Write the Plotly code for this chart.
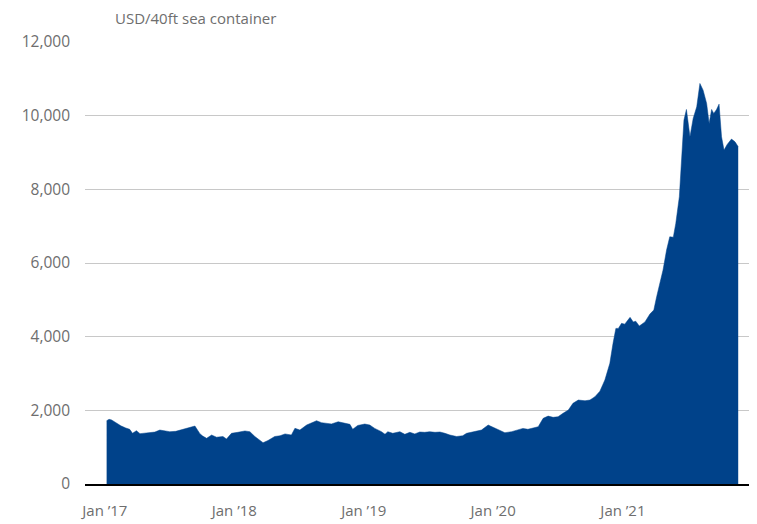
import plotly.graph_objects as go

dates = [
    "2017-01-06", "2017-01-13", "2017-01-20", "2017-02-03", "2017-02-15", "2017-03-01",
    "2017-03-12", "2017-03-20", "2017-03-31", "2017-04-10", "2017-04-24", "2017-05-08",
    "2017-05-22", "2017-06-05", "2017-06-19", "2017-07-03", "2017-07-20", "2017-08-09",
    "2017-08-29", "2017-09-12", "2017-09-26", "2017-10-04", "2017-10-15", "2017-10-29",
    "2017-11-12", "2017-11-30", "2017-12-10", "2017-12-24", "2018-01-11", "2018-01-31",
    "2018-02-14", "2018-02-28", "2018-03-23", "2018-04-06", "2018-04-25", "2018-05-10",
    "2018-05-24", "2018-06-11", "2018-06-21", "2018-07-05", "2018-07-24", "2018-08-05",
    "2018-08-21", "2018-09-04", "2018-09-16", "2018-10-02", "2018-10-21", "2018-11-09",
    "2018-11-23", "2018-12-01", "2018-12-15", "2019-01-04", "2019-01-18", "2019-02-01",
    "2019-02-20", "2019-03-02", "2019-03-10", "2019-03-24", "2019-04-13", "2019-04-27",
    "2019-05-11", "2019-05-25", "2019-06-08", "2019-06-22", "2019-07-06", "2019-07-21",
    "2019-08-04", "2019-08-18", "2019-09-01", "2019-09-20", "2019-10-07", "2019-10-18",
    "2019-11-01", "2019-11-15", "2019-11-29", "2019-12-18", "2020-01-06", "2020-01-20",
    "2020-02-03", "2020-02-22", "2020-03-12", "2020-03-25", "2020-04-08", "2020-04-22",
    "2020-05-07", "2020-05-21", "2020-06-04", "2020-06-18", "2020-07-02", "2020-07-16",
    "2020-07-31", "2020-08-13", "2020-08-28", "2020-09-16", "2020-09-30", "2020-10-14",
    "2020-10-28", "2020-11-11", "2020-11-25", "2020-12-04", "2020-12-12", "2020-12-19",
    "2020-12-28", "2021-01-06", "2021-01-21", "2021-01-30", "2021-02-06", "2021-02-16",
    "2021-03-04", "2021-03-18", "2021-03-29", "2021-04-06", "2021-04-15", "2021-04-24",
    "2021-05-04", "2021-05-13", "2021-05-23", "2021-05-30", "2021-06-09", "2021-06-15",
    "2021-06-22", "2021-06-29", "2021-07-09", "2021-07-18", "2021-07-28", "2021-08-06",
    "2021-08-15", "2021-08-25", "2021-09-01", "2021-09-08", "2021-09-14", "2021-09-22",
    "2021-09-29", "2021-10-06", "2021-10-13", "2021-10-22", "2021-11-03", "2021-11-13",
    "2021-11-22",
]

usd_per_container = [
    1718, 1755, 1740, 1647, 1580, 1520,
    1485, 1376, 1447, 1367, 1380, 1403,
    1410, 1465, 1450, 1420, 1430, 1485,
    1555, 1574, 1367, 1300, 1240, 1330,
    1270, 1290, 1220, 1376, 1403, 1440,
    1420, 1290, 1121, 1180, 1290, 1310,
    1360, 1330, 1511, 1465, 1601, 1650,
    1718, 1665, 1650, 1630, 1690, 1647,
    1620, 1485, 1590, 1628, 1601, 1510,
    1420, 1349, 1420, 1376, 1420, 1349,
    1403, 1360, 1412, 1403, 1420, 1403,
    1412, 1376, 1330, 1290, 1310, 1376,
    1403, 1447, 1465, 1601, 1510, 1465,
    1393, 1420, 1485, 1510, 1485, 1510,
    1555, 1783, 1843, 1810, 1826, 1919,
    2008, 2190, 2280, 2260, 2280, 2370,
    2520, 2823, 3276, 3819, 4225, 4225,
    4361, 4340, 4524, 4400, 4420, 4288,
    4400, 4614, 4722, 5084, 5447, 5808,
    6351, 6712, 6700, 7075, 7797, 8793,
    9879, 10169, 9426, 9925, 10240, 10875,
    10693, 10332, 9789, 10169, 10060, 10169,
    10313, 9426, 9065, 9220, 9364, 9290,
    9155,
]

tick_dates = ["2017-01-01", "2018-01-01", "2019-01-01", "2020-01-01", "2021-01-01"]
tick_labels = ["Jan \u201917", "Jan \u201918", "Jan \u201919", "Jan \u201920", "Jan \u201921"]
y_ticks = [0, 2000, 4000, 6000, 8000, 10000, 12000]
y_tick_labels = ["0", "2,000", "4,000", "6,000", "8,000", "10,000", "12,000"]
unit_label = "USD/40ft sea container"

FILL = "#00428A"
GRAY = "#6e6e6e"
FONT = "Open Sans"

fig = go.Figure()
fig.add_trace(go.Scatter(
    x=dates, y=usd_per_container, mode="lines", fill="tozeroy",
    line=dict(color=FILL, width=0.5), fillcolor=FILL, hoverinfo="x+y",
))

# page body has an 8px default margin; the figure is sized to fill the rest of the window
fig.update_layout(
    width=749, height=516,
    margin=dict(l=77, r=0, t=34, b=40),
    plot_bgcolor="white", paper_bgcolor="white",
    showlegend=False,
    font=dict(family=FONT, size=15, color=GRAY),
    xaxis=dict(
        type="date",
        range=["2016-11-06", "2022-01-14"],
        tickvals=tick_dates, ticktext=tick_labels,
        showgrid=False, showline=True, linecolor="black", linewidth=1.5,
        ticks="", tickfont=dict(size=15, color=GRAY),
        ticklabelstandoff=12, automargin=False,
    ),
    yaxis=dict(
        range=[0, 12000],
        tickvals=y_ticks, ticktext=y_tick_labels,
        showgrid=True, gridcolor="#c8c8c8", gridwidth=1,
        zeroline=False, showline=False, ticks="",
        tickfont=dict(size=15.5, color=GRAY),
        ticklabelstandoff=14, automargin=False,
    ),
    annotations=[dict(
        text=unit_label, xref="paper", yref="paper", x=(113 - 85) / 672, y=1.0,
        xanchor="left", yanchor="bottom", yshift=12, showarrow=False,
        font=dict(family=FONT, size=15, color=GRAY),
    )],
)

fig.write_html("out.html")
